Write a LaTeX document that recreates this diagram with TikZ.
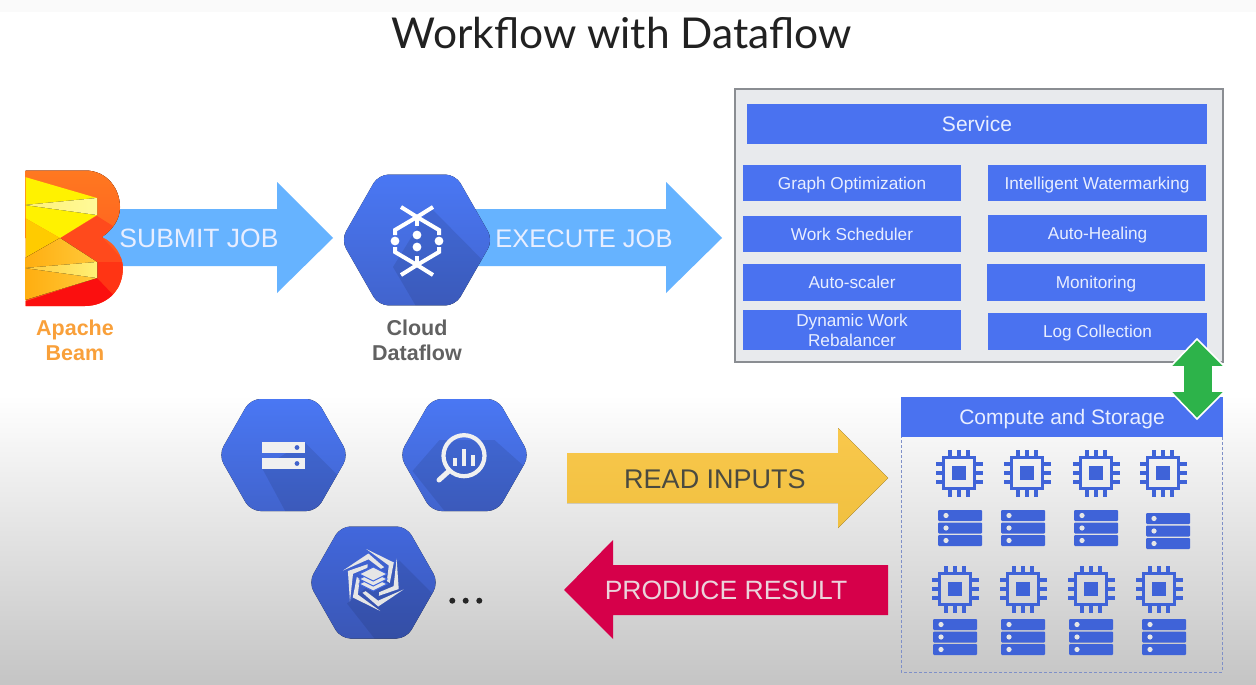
\documentclass[tikz,border=0pt]{standalone}
\usepackage{fontspec}
\setmainfont{Liberation Sans}
\newfontfamily\titlefont{Lato}
\usetikzlibrary{shapes.geometric}
\definecolor{gblue}{HTML}{4A72F0}
\definecolor{hextop}{HTML}{4A78F5}
\definecolor{hexbot}{HTML}{4163CC}
\definecolor{iconblue}{HTML}{3F63D8}
\definecolor{paleblue}{HTML}{E8EEFF}
\definecolor{panelfill}{HTML}{E8EAED}
\definecolor{panelline}{HTML}{8A8D92}
\definecolor{submitblue}{HTML}{66B3FF}
\definecolor{producered}{HTML}{D6004A}
\definecolor{dashblue}{HTML}{7F90C8}
\definecolor{iconpale}{HTML}{E6E6E6}
\definecolor{orangeA}{HTML}{FF7A20}
\definecolor{orangeB}{HTML}{FF6420}
\definecolor{orangeC}{HTML}{FF4A1C}
\definecolor{orangeD}{HTML}{FF3414}
\definecolor{orangeE}{HTML}{FB0F0F}
\definecolor{orangeF}{HTML}{FF5A1E}
\definecolor{yellowA}{HTML}{FFF200}
\definecolor{yellowB}{HTML}{FFCB00}
\definecolor{yellowC}{HTML}{FFF176}
\definecolor{yellowD}{HTML}{FFAE10}
\definecolor{yellowE}{HTML}{FFC93A}
\definecolor{captionA}{HTML}{F9A03A}
\definecolor{greenA}{HTML}{2DB34A}
\definecolor{hexC}{HTML}{4268DE}
\definecolor{hexD}{HTML}{3A56B4}
\definecolor{goldA}{HTML}{F9C84C}
\definecolor{goldB}{HTML}{F0C040}
\definecolor{textA}{HTML}{4A4A40}
\definecolor{textB}{HTML}{EBD3DB}
\newcommand{\fs}[1]{\fontsize{#1}{#1}\selectfont}
\tikzset{
  bluebox/.style={fill=gblue,text=paleblue,inner sep=0pt,font=\fs{17.2},text height=12.4pt,text depth=0pt},
  bigbox/.style={bluebox,font=\fs{21},text height=15.1pt},
  arrowlabel/.style={inner sep=0pt,font=\fs{#1},text height=.72*#1 pt,text depth=0pt},
  caption/.style={inner sep=0pt,font=\fs{21.5}\bfseries,text height=15.5pt,text depth=0pt},
  chipline/.style={iconblue,line width=3.1pt},
  hexicon/.style={white,line width=4pt}
}
% hexagon: centre x, y, scale, shadow polygon (relative px), top colour, bottom colour
\newcommand{\hexa}[6]{%
  \begin{scope}
    \path[clip,rounded corners=10pt] ({#1-65*#3},#2) -- ({#1-33*#3},{#2-56*#3}) -- ({#1+33*#3},{#2-56*#3}) -- ({#1+65*#3},#2) -- ({#1+33*#3},{#2+56*#3}) -- ({#1-33*#3},{#2+56*#3}) -- cycle;
    \fill[top color=#5,bottom color=#6] ({#1-80*#3},{#2-60*#3}) rectangle ({#1+80*#3},{#2+60*#3});
    \begin{scope}[shift={(#1,#2)}]
      \fill[black,opacity=.09] #4 -- cycle;
    \end{scope}
  \end{scope}}
\newcommand{\chip}[2]{%
  \begin{scope}[shift={(#1,#2)}]
    \draw[chipline] (-15.5,-15.5) rectangle (15.5,15.5);
    \fill[iconblue] (-6.8,-6.8) rectangle (6.8,6.8);
    \foreach \t in {-9,0,9}{
      \draw[chipline] (\t,-15.5) -- (\t,-23.5);
      \draw[chipline] (\t,15.5) -- (\t,23.5);
      \draw[chipline] (-15.5,\t) -- (-23.5,\t);
      \draw[chipline] (15.5,\t) -- (23.5,\t);
    }
  \end{scope}}
\newcommand{\servers}[2]{%
  \begin{scope}[shift={(#1,#2)}]
    \foreach \r in {0,12.5,25}{
      \fill[iconblue,rounded corners=1pt] (0,\r) rectangle (44,\r+11);
      \fill[iconpale] (8,\r+5.5) circle (2.6);
    }
  \end{scope}}
\begin{document}
\begin{tikzpicture}[x=1pt,y=-1pt]
\useasboundingbox (0,0) rectangle (1256,685);
% background
\fill[white] (0,0) rectangle (1256,685);
\fill[top color=white,bottom color=black!23] (0,395) rectangle (1256,685);
\fill[black!2] (0,0) rectangle (1256,12);
\node[inner sep=0pt,font=\titlefont\fs{42.5},text=black!87] (title) at (621.5,33) {Workflow with Dataflow};

% Submit and execute arrows
\fill[submitblue] (100,209) -- (277,209) -- (277,182) -- (333,238) -- (277,293) -- (277,266) -- (100,266) -- cycle;
\fill[submitblue] (470,209) -- (666,209) -- (666,182) -- (722,238) -- (666,293) -- (666,266) -- (470,266) -- cycle;
\node[arrowlabel=26.5,text=paleblue] (submit) at (199,238) {SUBMIT JOB};
\node[arrowlabel=25.5,text=paleblue] (execute) at (584,238) {EXECUTE JOB};

% Beam logo
\begin{scope}
  \path[clip] (25.5,170.5) -- (85,170.5) .. controls (108,170.5) and (120,190) .. (120,207) .. controls (120,220) and (112,230) .. (102,237) .. controls (115,243) and (122.8,256) .. (122.8,268) .. controls (122.8,292) and (105,306) .. (85,306) -- (25.5,306) -- cycle;
  \fill[orangeF] (20,165) rectangle (130,310);
  \fill[top color=orangeA,bottom color=orangeB] (20,165) -- (130,165) -- (130,237) -- (60,238) -- (20,238) -- cycle;
  \fill[orangeC] (60,238) -- (97,216) -- (113,226) -- (102,237) -- (125,262) -- (125,300) -- (97,262) -- cycle;
  \fill[orangeD] (97,262) -- (97,278) -- (116,306) -- (125,290) -- (125,262) -- cycle;
  \fill[orangeE] (20,303) -- (97,278) -- (118,300) -- (100,310) -- (20,310) -- cycle;
  \fill[yellowA] (25,177) -- (97,198) -- (97,215) -- (60,238) -- (25,218) -- cycle;
  \fill[left color=yellowC,right color=white!60!yellowA] (25,205) -- (97,198) -- (97,215) -- cycle;
  \fill[yellowB] (25,218) -- (60,238) -- (25,258) -- cycle;
  \fill[left color=yellowD,right color=yellowE] (25,258) -- (60,238) -- (97,262) -- (97,278) -- (25,300) -- cycle;
  \fill[left color=yellowE,right color=yellowC] (25,268) -- (97,262) -- (97,278) -- cycle;
\end{scope}
\node[caption,text=captionA] (beam1) at (75,328) {Apache};
\node[caption,text=captionA] (beam2) at (75,353) {Beam};

% Dataflow hexagon
\hexa{417}{240}{1.168}{(13,-33) -- (95,50) -- (13,90) -- (-24,27)}{hextop}{hexbot}
\begin{scope}
  \foreach \p/\q in {(417,235)/0,(417,247)/0,(395,241)/0,(439,241)/0}{\fill[white] \p circle (4.4);}
  \draw[hexicon] (401,207) -- (417,217) -- (439,230) -- (439,235);
  \draw[hexicon] (433,207) -- (417,217) -- (395,230) -- (395,235);
  \draw[hexicon] (401,275) -- (417,265) -- (439,252) -- (439,247);
  \draw[hexicon] (433,275) -- (417,265) -- (395,252) -- (395,247);
  \draw[hexicon] (417,217) -- (417,226);
  \draw[hexicon] (417,256) -- (417,265);
\end{scope}
\node[caption,text=black!62] (dataflow1) at (417,328) {Cloud};
\node[caption,text=black!62] (dataflow2) at (417,353) {Dataflow};

% Service panel
\draw[fill=panelfill,draw=panelline,line width=1.2pt] (735,89) rectangle (1223,362);
\node[bigbox,minimum width=460pt,minimum height=40pt] (service) at (977,124) {Service};
\node[bluebox,minimum width=218pt,minimum height=36pt] (graph) at (852,183) {Graph Optimization};
\node[bluebox,minimum width=218pt,minimum height=36pt] (sched) at (852,234) {Work Scheduler};
\node[bluebox,minimum width=218pt,minimum height=37pt] (scaler) at (852,282.5) {Auto-scaler};
\fill[gblue] (743,310) rectangle (961,350);
\node[bluebox,fill=none] (rebal1) at (852,320) {Dynamic Work};
\node[bluebox,fill=none] (rebal2) at (852,340.5) {Rebalancer};
\node[bluebox,minimum width=218pt,minimum height=36pt] (water) at (1097,183) {Intelligent Watermarking};
\node[bluebox,minimum width=219pt,minimum height=37pt] (heal) at (1097.5,233.5) {Auto-Healing};
\node[bluebox,minimum width=218pt,minimum height=37pt] (mon) at (1096,282.5) {Monitoring};
\node[bluebox,minimum width=219pt,minimum height=37pt] (log) at (1097.5,331.5) {Log Collection};

% Compute and storage
\draw[dashblue,densely dashed,line width=.9pt] (901,430) rectangle (1222,672);
\node[bigbox,minimum width=322pt,minimum height=40pt] (compute) at (1062,417) {Compute and Storage};
\foreach \x in {959,1027,1096,1163}{\chip{\x}{473}}
\foreach \x in {955,1023,1091,1159}{\chip{\x}{589}}
\servers{938}{510}\servers{1001}{510}\servers{1074}{510}\servers{1146}{513}
\servers{933}{619}\servers{1001}{619}\servers{1069}{619}\servers{1142}{619}

% Green double arrow
\fill[greenA,draw=white,line width=1.6pt,line join=miter] (1197,339) -- (1225,367) -- (1213,367) -- (1213,391) -- (1225,391) -- (1197,419) -- (1170,391) -- (1183,391) -- (1183,367) -- (1170,367) -- cycle;

% Product hexagons
\hexa{283.5}{455}{1}{(21,-13) -- (80,46) -- (20,90) -- (-21.5,13)}{hextop}{hexbot}
\fill[iconpale!60!white] (262,442) rectangle (305,453);
\fill[iconpale!60!white] (262,458) rectangle (305,469);
\fill[hexbot] (297,447.5) circle (2.4);
\fill[hexbot] (297,463.5) circle (2.4);

\hexa{464.5}{455}{1}{(-52,16) -- (-25,-15) -- (30,-15) -- (75,25) -- (70,70) -- (-20,70) -- (-20,56)}{hextop}{hexbot}
\draw[iconpale!60!white,line width=4.2pt] (464,455.7) circle (20.5);
\draw[iconpale!60!white,line width=5pt,line cap=round] (449,471) -- (439,480);
\fill[iconpale!60!white] (453,458) rectangle (457,466);
\fill[iconpale!60!white] (462,449) rectangle (466,466);
\fill[iconpale!60!white] (471,455) rectangle (475,466);

\hexa{373.5}{582.5}{1}{(26,-22) -- (90,42) -- (34,98) -- (-26.5,21)}{hexC}{hexD}
\begin{scope}[shift={(373.3,580)}]
  \foreach \a in {0,60,...,300}{
    \begin{scope}[rotate=\a]
      \fill[iconpale] (-7,-31) -- (20.5,-17.5) -- (16.5,3) -- (13.5,1) -- (15.5,-14.5) -- cycle;
    \end{scope}
  }
  \foreach \d in {10,5,0}{
    \fill[iconpale,draw=hexC,line width=1pt] (0,\d-13) -- (14,\d-6) -- (0,\d+1) -- (-14,\d-6) -- cycle;
  }
\end{scope}
\fill[black!85] (452.3,600.7) circle (3);
\fill[black!85] (465.7,600.7) circle (3);
\fill[black!85] (479.3,600.7) circle (3);

% Read and produce arrows
\fill[top color=goldA,bottom color=goldB] (567,453) -- (838,453) -- (838,428) -- (888,478) -- (838,528) -- (838,503) -- (567,503) -- cycle;
\node[arrowlabel=27,text=textA] (read) at (715,479) {READ INPUTS};
\fill[producered] (888,565) -- (613,565) -- (613,540) -- (564,590) -- (613,639) -- (613,615) -- (888,615) -- cycle;
\node[arrowlabel=26.5,text=textB] (produce) at (726,590) {PRODUCE RESULT};
\end{tikzpicture}
\end{document}
